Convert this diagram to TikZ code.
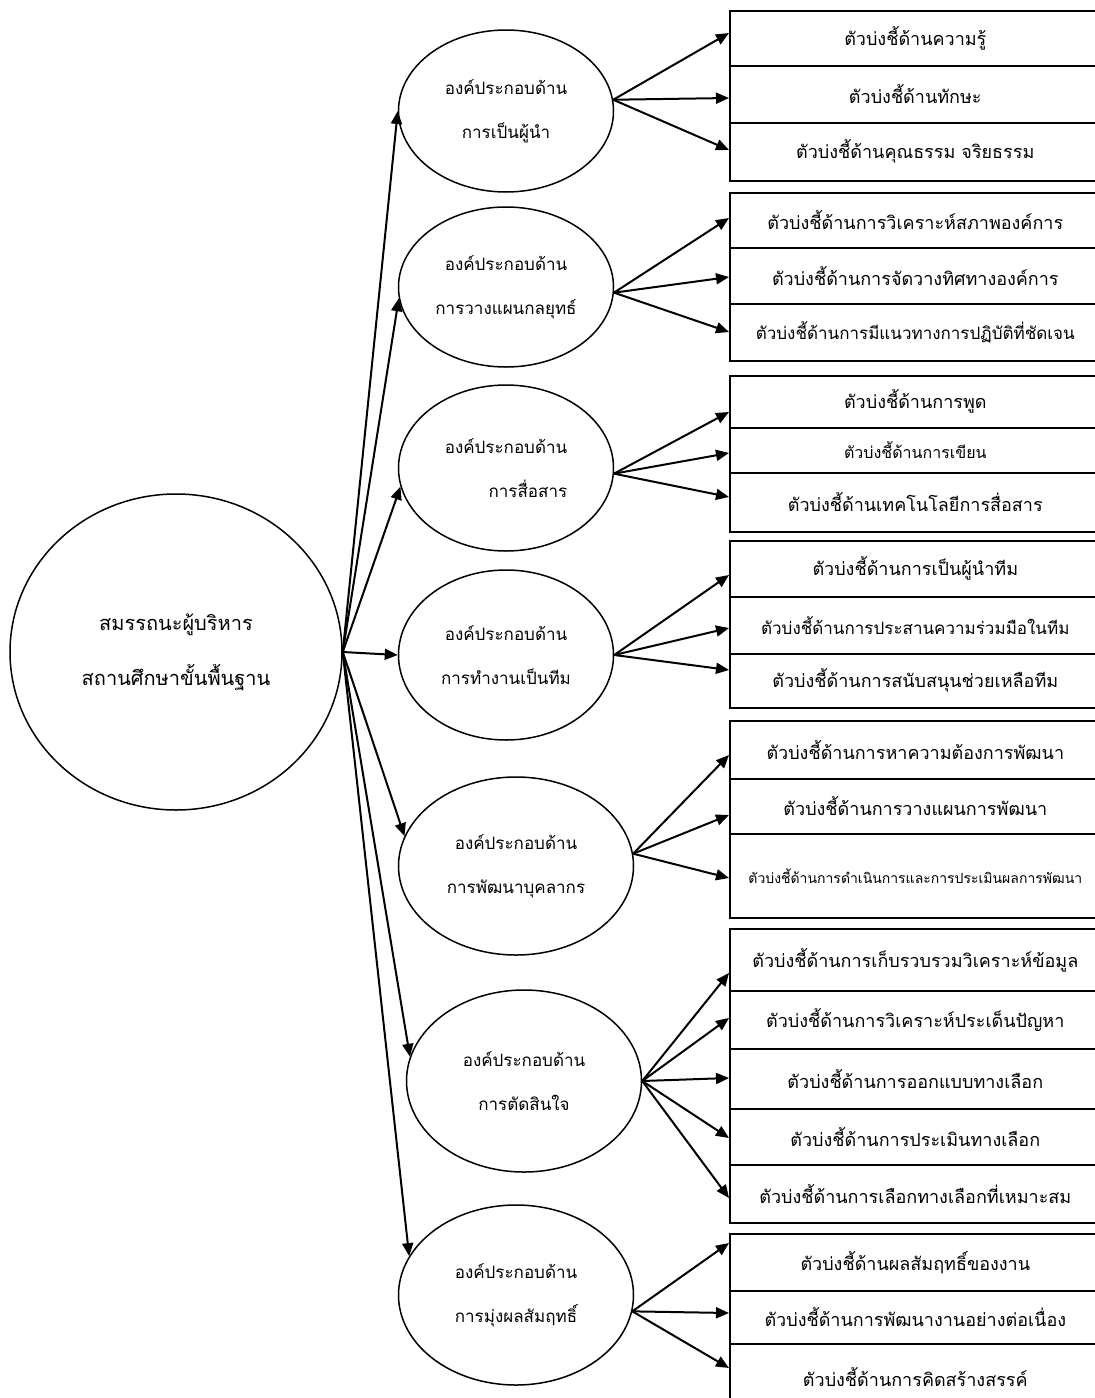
\documentclass[tikz,border=0pt]{standalone}
\usepackage{fontspec}
\newfontfamily\thaifont[Script=Thai]{Loma}
\usetikzlibrary{arrows.meta, positioning, shapes.geometric, calc}

\begin{document}
\begin{tikzpicture}[x=0.5pt, y=-0.5pt,
  every node/.style={font=\thaifont\fontsize{8.5}{22}\selectfont},
  hubcircle/.style={draw, line width=0.75pt, ellipse, inner sep=0pt,
    minimum width=166pt, minimum height=158pt, align=center,
    font=\thaifont\fontsize{10}{27.5}\selectfont},
  partoval/.style={draw, line width=0.75pt, ellipse, inner sep=0pt, align=center},
  rowbox/.style={draw, line width=0.8pt, rectangle, anchor=north west,
    minimum width=185.5pt, inner sep=0pt, font=\thaifont\fontsize{9}{11}\selectfont},
  arr/.style={line width=1pt, -{Triangle[length=6.5pt, width=5.5pt]}}]

  \useasboundingbox (0,0) rectangle (1095,1398);
  \clip (0,0) rectangle (1095,1398);

  % main competency
  \node[hubcircle] (hub) at (176,652) {สมรรถนะผู้บริหาร\\สถานศึกษาขั้นพื้นฐาน};
  \coordinate (hubout) at (hub.east);

  % components
  \node[partoval, minimum width=107.5pt, minimum height=81pt] (e1) at (506,111) {องค์ประกอบด้าน\\การเป็นผู้นำ};
  \node[partoval, minimum width=107.5pt, minimum height=80pt] (e2) at (506,287) {องค์ประกอบด้าน\\การวางแผนกลยุทธ์};
  \node[partoval, minimum width=107.5pt, minimum height=83pt, align=right] (e3) at (506,468) {องค์ประกอบด้าน\\การสื่อสาร};
  \node[partoval, minimum width=107.5pt, minimum height=85pt] (e4) at (506,655) {องค์ประกอบด้าน\\การทำงานเป็นทีม};
  \node[partoval, minimum width=117.5pt, minimum height=89pt] (e5) at (516,866) {องค์ประกอบด้าน\\การพัฒนาบุคลากร};
  \node[partoval, minimum width=117.5pt, minimum height=91pt] (e6) at (524,1081) {องค์ประกอบด้าน\\การตัดสินใจ};
  \node[partoval, minimum width=117.5pt, minimum height=90pt] (e7) at (516,1295) {องค์ประกอบด้าน\\การมุ่งผลสัมฤทธิ์};

  \draw[arr] (hubout) -- (e1.west);
  \draw[arr] (hubout) -- (e2.186);
  \draw[arr] (hubout) -- (e3.190);
  \draw[arr] (hubout) -- (e4.west);
  \draw[arr] (hubout) -- (e5.165);
  \draw[arr] (hubout) -- (e6.168);
  \draw[arr] (hubout) -- (e7.160);

  % indicators: name/top/bottom/arrow tip/source/text
  \foreach \r/\top/\bot/\tip/\src/\txt in {
    r11/10/65/33/e1.6/ตัวบ่งชี้ด้านความรู้,
    r12/65/122/98/e1.6/ตัวบ่งชี้ด้านทักษะ,
    r13/122/180/150/e1.6/ตัวบ่งชี้ด้านคุณธรรม จริยธรรม,
    r21/192/247/218/e2.357/ตัวบ่งชี้ด้านการวิเคราะห์สภาพองค์การ,
    r22/247/303/277/e2.357/ตัวบ่งชี้ด้านการจัดวางทิศทางองค์การ,
    r23/303/360/332/e2.357/{\fontsize{8.5}{10}\selectfont ตัวบ่งชี้ด้านการมีแนวทางการปฏิบัติที่ชัดเจน},
    r31/375/427/412/e3.357/ตัวบ่งชี้ด้านการพูด,
    r32/427/472/453/e3.357/{\fontsize{8}{10}\selectfont ตัวบ่งชี้ด้านการเขียน},
    r33/472/531/497/e3.357/ตัวบ่งชี้ด้านเทคโนโลยีการสื่อสาร,
    r41/540/596/575/e4.east/ตัวบ่งชี้ด้านการเป็นผู้นำทีม,
    r42/596/653/628/e4.east/{\fontsize{8.5}{10}\selectfont ตัวบ่งชี้ด้านการประสานความร่วมมือในทีม},
    r43/653/707/670/e4.east/ตัวบ่งชี้ด้านการสนับสนุนช่วยเหลือทีม,
    r51/720/778/755/e5.6/ตัวบ่งชี้ด้านการหาความต้องการพัฒนา,
    r52/778/833/815/e5.6/ตัวบ่งชี้ด้านการวางแผนการพัฒนา,
    r53/833/917/878/e5.6/{\fontsize{7}{9}\selectfont ตัวบ่งชี้ด้านการดำเนินการและการประเมินผลการพัฒนา},
    r61/928/990/973/e6.east/ตัวบ่งชี้ด้านการเก็บรวบรวมวิเคราะห์ข้อมูล,
    r62/990/1048/1018/e6.east/ตัวบ่งชี้ด้านการวิเคราะห์ประเด็นปัญหา,
    r63/1048/1108/1078/e6.east/ตัวบ่งชี้ด้านการออกแบบทางเลือก,
    r64/1108/1164/1138/e6.east/ตัวบ่งชี้ด้านการประเมินทางเลือก,
    r65/1164/1222/1198/e6.east/ตัวบ่งชี้ด้านการเลือกทางเลือกที่เหมาะสม,
    r71/1233/1290/1243/e7.352/ตัวบ่งชี้ด้านผลสัมฤทธิ์ของงาน,
    r72/1290/1343/1313/e7.352/ตัวบ่งชี้ด้านการพัฒนางานอย่างต่อเนื่อง,
    r73/1343/1410/1368/e7.352/ตัวบ่งชี้ด้านการคิดสร้างสรรค์}
  {
    \node[rowbox, minimum height={(\bot-\top)*0.5pt}] (\r) at (729,\top) {\txt};
    \draw[arr] (\src) -- ($(\r.north west)+(0,\tip-\top)$);
  }
\end{tikzpicture}
\end{document}
